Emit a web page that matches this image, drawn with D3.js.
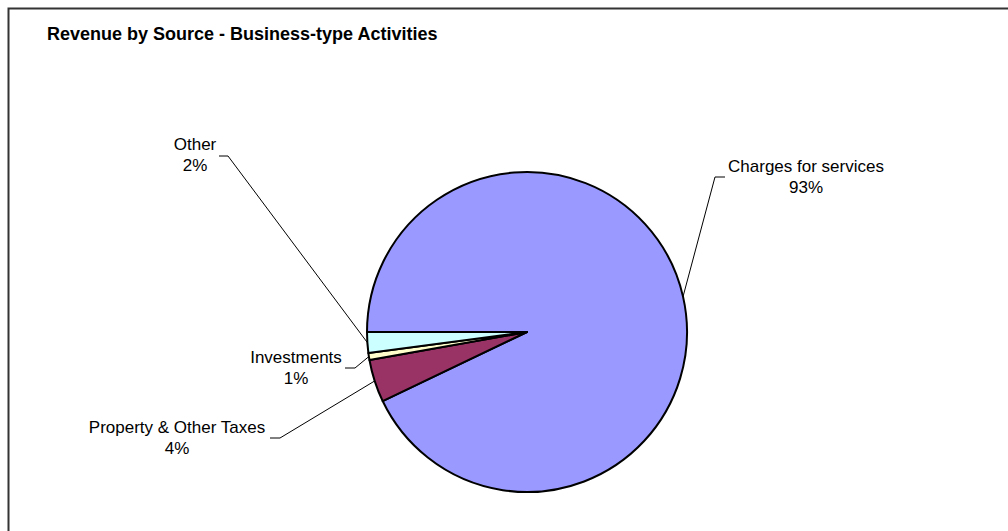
<!DOCTYPE html>
<html>
<head>
<meta charset="utf-8">
<script src="https://cdn.jsdelivr.net/npm/d3@7"></script>
<style>
  body { margin: 0; background: #fff; }
  svg { display: block; font-family: "Liberation Sans", Arial, sans-serif; }
</style>
</head>
<body>
<svg id="chart" width="1008" height="531"></svg>
<script>
// slices, clockwise from 9 o'clock
const sources = ["Charges for services", "Property & Other Taxes", "Investments", "Other"];
const shares = [92.9, 4.3, 0.7, 2.1];
const colors = ["#9999FF", "#993366", "#FFFFCC", "#CCFFFF"];

// label centre x / first baseline, and the short horizontal leader stub
const labelPos = [[806, 172], [177, 433], [296, 363], [195, 150]];
const stubs = [[[725, 177], [715, 177]], [[270, 438], [280, 438]], [[345, 368], [355, 368]], [[219, 156], [228, 156]]];

const width = 1008, height = 531;
const cx = 527, cy = 332, r = 160;
const pct = d3.format(".0%");

const svg = d3.select("#chart");

// chart frame (runs off the right and bottom edges)
svg.append("rect")
    .attr("x", 8.5).attr("y", 8.5)
    .attr("width", 1020).attr("height", 540)
    .attr("fill", "#fff")
    .attr("stroke", "#333")
    .attr("stroke-width", 2);

svg.append("text")
    .attr("x", 47).attr("y", 40)
    .attr("font-size", 18)
    .attr("font-weight", "bold")
    .text("Revenue by Source - Business-type Activities");

const data = sources.map((s, i) => ({name: s, value: shares[i], color: colors[i], i}));
const total = d3.sum(shares);

const pie = d3.pie()
    .sort(null)
    .value(d => d.value)
    .startAngle(-Math.PI / 2)
    .endAngle(1.5 * Math.PI);

const arc = d3.arc().innerRadius(0).outerRadius(r);
const arcs = pie(data);

const g = svg.append("g").attr("transform", `translate(${cx},${cy})`);

g.selectAll("path")
  .data(arcs)
  .join("path")
    .attr("d", arc)
    .attr("fill", d => d.data.color)
    .attr("stroke", "#000")
    .attr("stroke-width", 2)
    .attr("stroke-linejoin", "round");

// leader lines: stub, then to the middle of the slice's outer edge
svg.append("g")
  .selectAll("polyline")
  .data(arcs)
  .join("polyline")
    .attr("fill", "none")
    .attr("stroke", "#000")
    .attr("stroke-width", 1)
    .attr("points", d => {
      const a = (d.startAngle + d.endAngle) / 2;
      const px = cx + r * Math.sin(a), py = cy - r * Math.cos(a);
      const s = stubs[d.data.i];
      return [s[0], s[1], [px, py]].map(p => p.join(",")).join(" ");
    });

const labels = svg.append("g")
    .attr("font-size", 17)
    .attr("text-anchor", "middle")
  .selectAll("text")
  .data(arcs)
  .join("text")
    .attr("x", d => labelPos[d.data.i][0])
    .attr("y", d => labelPos[d.data.i][1]);

labels.append("tspan")
    .attr("x", d => labelPos[d.data.i][0])
    .text(d => d.data.name);
labels.append("tspan")
    .attr("x", d => labelPos[d.data.i][0])
    .attr("dy", 21)
    .text(d => pct(d.data.value / total));
</script>
</body>
</html>
